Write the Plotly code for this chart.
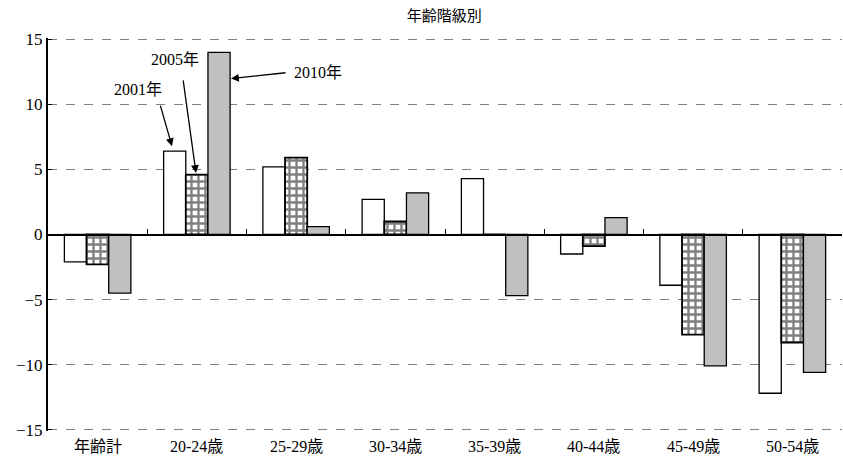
import plotly.graph_objects as go

categories = ["年齢計", "20-24歳", "25-29歳", "30-34歳", "35-39歳", "40-44歳", "45-49歳", "50-54歳"]
v2001 = [-2.1, 6.4, 5.2, 2.7, 4.3, -1.5, -3.9, -12.2]
v2005 = [-2.3, 4.6, 5.9, 1.0, 0.0, -0.9, -7.7, -8.3]
v2010 = [-4.5, 14.0, 0.6, 3.2, -4.7, 1.3, -10.1, -10.6]
y_ticks = [-15, -10, -5, 0, 5, 10, 15]

FONT = "Liberation Serif, 'Noto Sans CJK JP', serif"

fig = go.Figure()
fig.add_trace(go.Bar(name="2001年", x=categories, y=v2001,
                     marker=dict(color="white", line=dict(color="black", width=1.3))))
fig.add_trace(go.Bar(name="2005年", x=categories, y=v2005,
                     marker=dict(color="white", line=dict(color="black", width=1.8),
                                 pattern=dict(shape="+", fgcolor="black", bgcolor="white",
                                              size=7, solidity=0.55))))
fig.add_trace(go.Bar(name="2010年", x=categories, y=v2010,
                     marker=dict(color="#c0c0c0", line=dict(color="black", width=1.3))))

fig.update_layout(
    width=843, height=464,
    margin=dict(l=48, r=1, t=38, b=33),
    paper_bgcolor="white", plot_bgcolor="white",
    barmode="group", bargap=0.33, bargroupgap=0,
    showlegend=False,
    font=dict(family=FONT, size=16, color="black"),
    title=dict(text="年齢階級別", x=0.527, xanchor="center", y=0.965, yanchor="middle",
               font=dict(family=FONT, size=15, color="black")),
    # x axis sits on the zero line (middle of the symmetric y range)
    xaxis=dict(type="category", range=[-0.5, 7.5], anchor="free", position=0.5,
               showline=True, linecolor="black", linewidth=2,
               ticks="inside", tickson="boundaries", ticklen=5, tickwidth=1,
               tickcolor="black", showticklabels=False,
               showgrid=False, zeroline=False),
    yaxis=dict(range=[-15.1, 15.1], tickvals=y_ticks, showline=True, linecolor="black",
               linewidth=2, ticks="inside", ticklen=4, tickcolor="black",
               showgrid=True, gridcolor="#808080", griddash="dash", gridwidth=1,
               zeroline=False,
               tickfont=dict(family=FONT, size=17, color="black")),
)

# category labels along the bottom edge
for c in categories:
    fig.add_annotation(x=c, y=0, xref="x", yref="paper", text=c, showarrow=False,
                       yanchor="top", yshift=-5,
                       font=dict(family=FONT, size=16, color="black"))

labels = [
    dict(text="2001年", x=0.749, y=6.79, ax=-12, ay=-42, tx=-34, ty=-57),
    dict(text="2005年", x=0.991, y=4.73, ax=-13, ay=-94, tx=-21, ty=-113),
    dict(text="2010年", x=1.344, y=11.98, ax=56, ay=-6, tx=87, ty=-6),
]
for a in labels:
    fig.add_annotation(x=a["x"], y=a["y"], xref="x", yref="y", text="",
                       showarrow=True, ax=a["ax"], ay=a["ay"], arrowhead=2,
                       arrowsize=1.2, arrowwidth=1.3, arrowcolor="black", standoff=0)
    fig.add_annotation(x=a["x"], y=a["y"], xref="x", yref="y", text=a["text"],
                       showarrow=False, xshift=a["tx"], yshift=-a["ty"],
                       font=dict(family=FONT, size=16, color="black"))

fig.write_html("out.html")
